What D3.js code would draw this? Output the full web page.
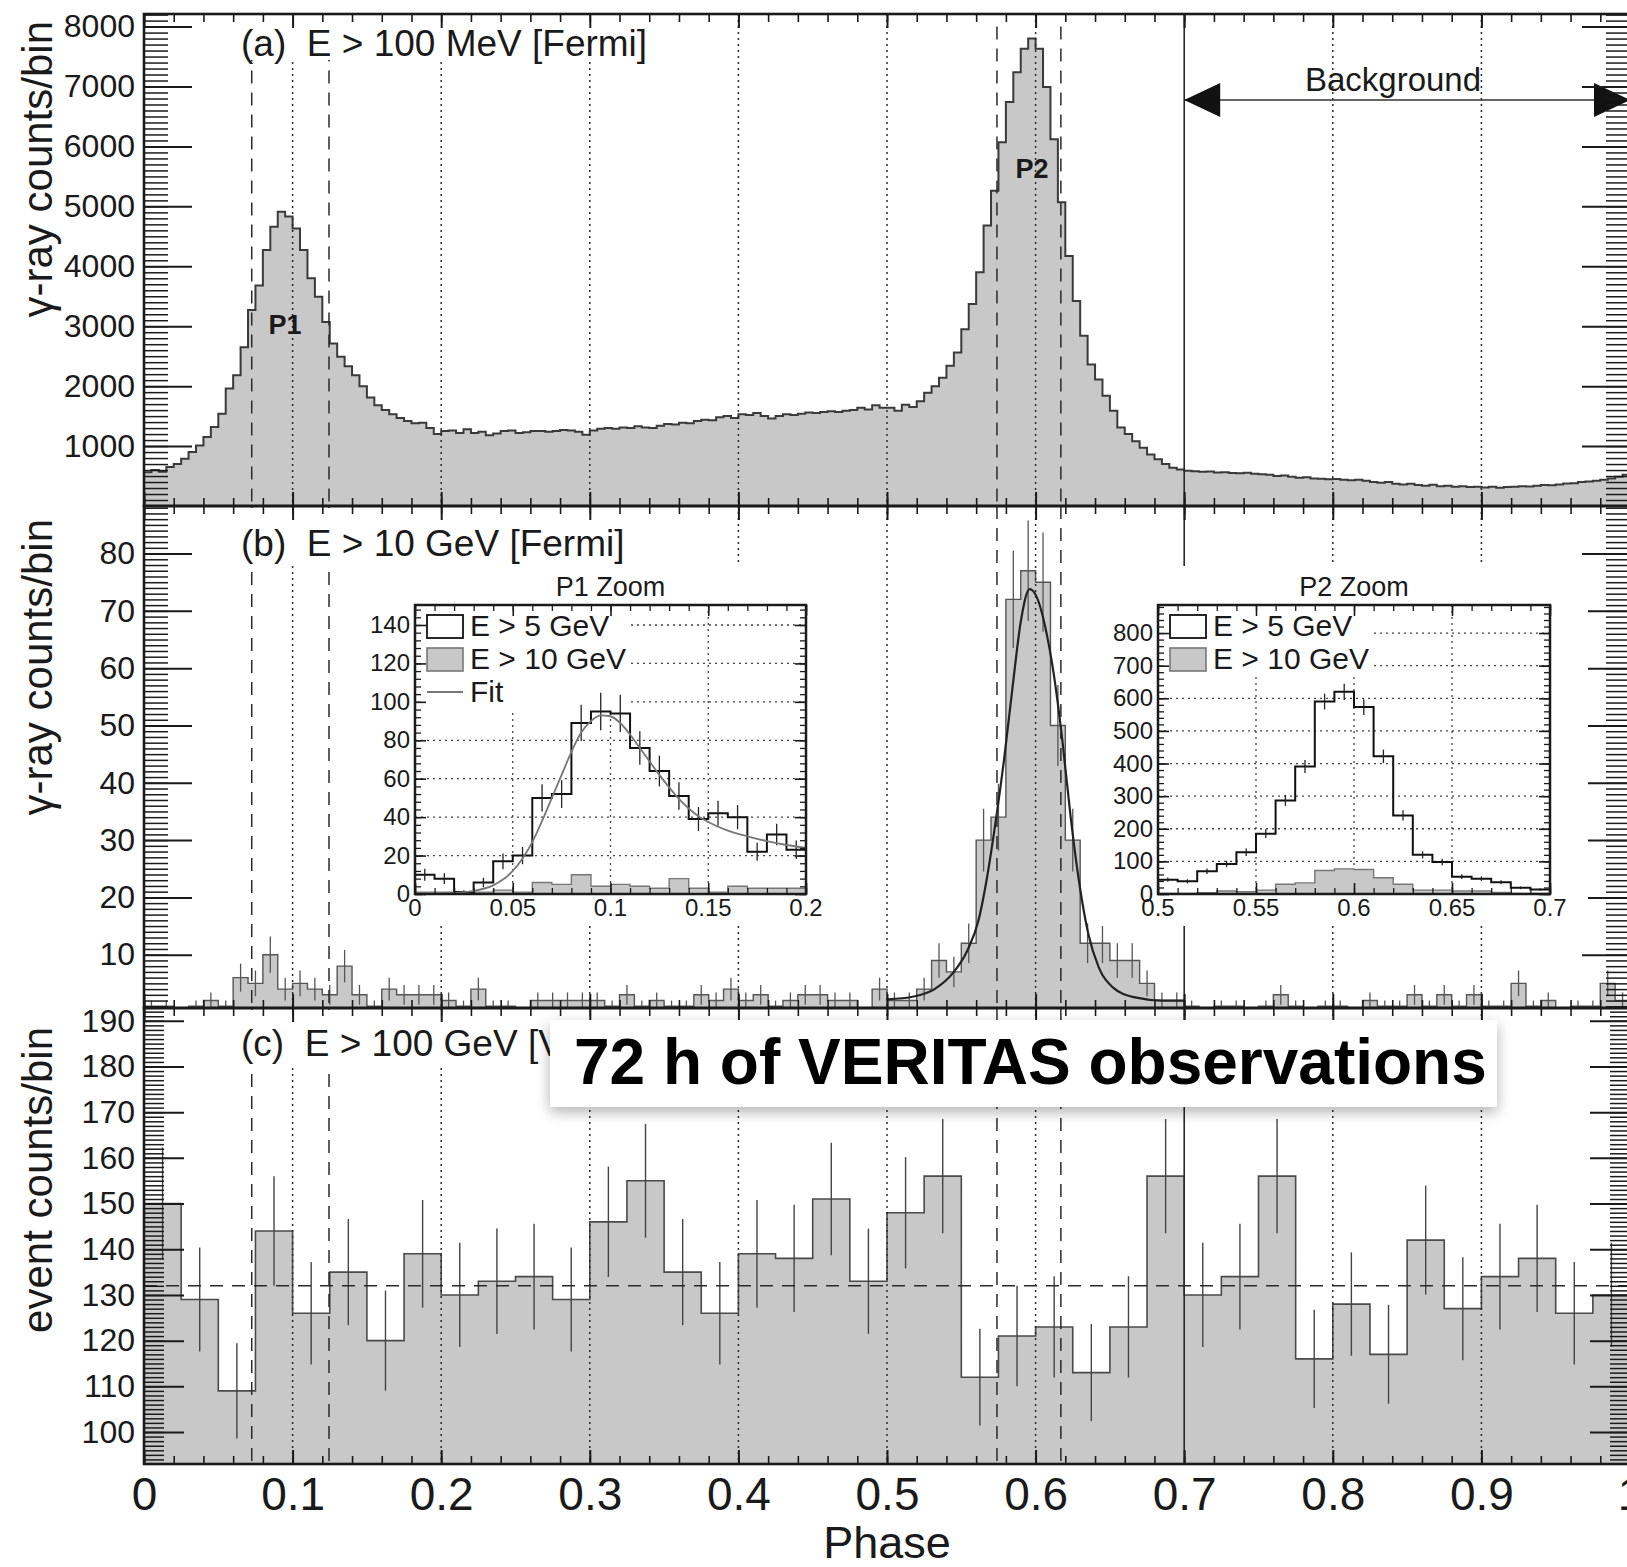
<!DOCTYPE html>
<html>
<head>
<meta charset="utf-8">
<title>Pulsar phaseogram</title>
<script src="https://cdn.jsdelivr.net/npm/d3@7/dist/d3.min.js"></script>
<style>
  body { margin: 0; background: #fff; }
  svg { display: block; }
  text { font-family: "Liberation Sans", Arial, Helvetica, sans-serif; fill: #1a1a1a; }
</style>
</head>
<body>
<svg id="chart" width="1627" height="1567"></svg>
<script>
// ---------- values ----------
// (a) Fermi E > 100 MeV, 200 bins of 0.005 in phase
const fermiMeVCounts = [
  565, 600, 570, 650, 700, 790, 900, 1010, 1150, 1320,
  1540, 1960, 2180, 2650, 3270, 3680, 4270, 4660, 4910, 4830,
  4630, 4270, 3800, 3490, 3070, 2710, 2490, 2330, 2180, 2000,
  1810, 1680, 1600, 1530, 1470, 1420, 1380, 1390, 1300, 1200,
  1250, 1260, 1220, 1280, 1220, 1240, 1180, 1210, 1250, 1260,
  1220, 1230, 1250, 1250, 1240, 1250, 1270, 1260, 1240, 1190,
  1260, 1290, 1300, 1290, 1310, 1300, 1330, 1310, 1300, 1340,
  1370, 1360, 1390, 1380, 1420, 1440, 1430, 1480, 1500, 1470,
  1530, 1520, 1550, 1500, 1460, 1500, 1530, 1520, 1540, 1560,
  1550, 1570, 1580, 1570, 1590, 1600, 1640, 1610, 1680, 1640,
  1640, 1590, 1690, 1650, 1750, 1890, 2000, 2140, 2340, 2560,
  2950, 3370, 3900, 4680, 5260, 6070, 6740, 7240, 7630, 7800,
  7630, 6990, 6120, 5070, 4170, 3420, 2840, 2360, 2110, 1840,
  1590, 1310, 1200, 1080, 970, 860, 780, 700, 640, 610,
  590, 580, 570, 575, 560, 565, 550, 545, 555, 540,
  530, 520, 500, 510, 490, 470, 480, 460, 455, 445,
  450, 440, 430, 440, 420, 400, 390, 400, 370, 360,
  370, 350, 340, 355, 330, 340, 320, 330, 315, 320,
  310, 320, 305, 315, 320, 330, 325, 340, 350, 345,
  360, 375, 380, 400, 410, 420, 440, 460, 490, 520
];

// (b) Fermi E > 10 GeV, 100 bins of 0.01
const fermiGeVCounts = [
  1, 1, 0, 1, 2, 1, 6, 5, 10, 4,
  5, 4, 3, 8, 3, 1, 4, 3, 3, 3,
  2, 1, 4, 1, 1, 0, 2, 2, 2, 2,
  2, 1, 3, 1, 2, 1, 1, 3, 2, 4,
  2, 3, 1, 2, 3, 3, 2, 2, 0, 4,
  2, 2, 4, 9, 7, 12, 30, 34, 72, 77,
  75, 50, 30, 12, 12, 9, 9, 5, 2, 2,
  1, 0, 1, 1, 0, 1, 3, 1, 0, 1,
  1, 0, 2, 1, 1, 3, 1, 3, 1, 3,
  1, 1, 5, 1, 2, 0, 1, 1, 5, 2
];
// fit to P2 in (b): [phase, counts]
const p2FitPoints = [
  [0.500, 2.2], [0.518, 2.7], [0.532, 4.0], [0.545, 7.0], [0.554, 10.7],
  [0.5616, 16.0], [0.567, 23.0], [0.5726, 32.3], [0.5787, 43.9], [0.5845, 56.7],
  [0.5902, 68.4], [0.596, 73.8], [0.6008, 72.4], [0.6065, 67.2], [0.6122, 59.0],
  [0.618, 47.4], [0.6236, 34.0], [0.6295, 22.3], [0.6355, 13.6], [0.6425, 7.8],
  [0.652, 4.3], [0.666, 2.6], [0.6857, 2.0], [0.700, 2.0]
];

// (c) VERITAS E > 100 GeV, 40 bins of 0.025
const veritasCounts = [
  150, 129, 109, 144, 126, 135, 120, 139, 130, 133,
  134, 129, 146, 155, 135, 126, 139, 138, 151, 133,
  148, 156, 112, 121, 123, 113, 123, 156, 130, 134,
  156, 116, 128, 117, 142, 127, 134, 138, 126, 130
];
const veritasMeanLevel = 132;

// insets, E > 5 GeV, bins of 0.01
const p1ZoomCounts = [10, 8, 1, 6, 17, 20, 50, 52, 89, 95, 94, 76, 64, 51, 39, 42, 40, 22, 31, 23];
const p2ZoomCounts = [44, 39, 70, 92, 128, 185, 287, 391, 590, 620, 573, 422, 241, 120, 98, 53, 47, 36, 19, 14];
const p1ZoomFit = [
  [0.010, 0.1], [0.02, 0.6], [0.03, 1.6], [0.04, 4.5], [0.045, 7.5], [0.05, 12],
  [0.055, 18.5], [0.06, 27], [0.065, 38], [0.07, 50], [0.075, 62], [0.08, 74],
  [0.085, 84], [0.09, 90], [0.095, 93], [0.1, 92.5], [0.105, 89], [0.11, 83],
  [0.115, 76], [0.12, 69], [0.125, 62], [0.13, 55.5], [0.135, 49.5], [0.14, 44.5],
  [0.145, 40.5], [0.15, 37.5], [0.16, 33], [0.17, 30], [0.18, 27.5], [0.19, 25.5], [0.2, 24]
];

// phase markers
const gridPhases = [0.1, 0.2, 0.3, 0.4, 0.5, 0.6, 0.8, 0.9];
const backgroundStart = 0.7;
const p1Edges = [0.0725, 0.1245];
const p2Edges = [0.574, 0.617];

// tick labels
const phaseTicks = [0, 0.1, 0.2, 0.3, 0.4, 0.5, 0.6, 0.7, 0.8, 0.9, 1];
const phaseTickText = ['0', '0.1', '0.2', '0.3', '0.4', '0.5', '0.6', '0.7', '0.8', '0.9', '1'];
const ticksA = [1000, 2000, 3000, 4000, 5000, 6000, 7000, 8000];
const ticksB = [10, 20, 30, 40, 50, 60, 70, 80];
const ticksC = [100, 110, 120, 130, 140, 150, 160, 170, 180, 190];
const p1ZoomXTicks = [0, 0.05, 0.1, 0.15, 0.2];
const p1ZoomXText = ['0', '0.05', '0.1', '0.15', '0.2'];
const p1ZoomYTicks = [0, 20, 40, 60, 80, 100, 120, 140];
const p2ZoomXTicks = [0.5, 0.55, 0.6, 0.65, 0.7];
const p2ZoomXText = ['0.5', '0.55', '0.6', '0.65', '0.7'];
const p2ZoomYTicks = [0, 100, 200, 300, 400, 500, 600, 700, 800];

// ---------- drawing ----------
const svg = d3.select('#chart');
const ink = '#1a1a1a';
const fillGray = '#c8c8c8';
const dotted = '2,4';
const dashed = '13,9';

const xl = 144, xr = 1630;
const x = d3.scaleLinear().domain([0, 1]).range([xl, xr]);

const ya = d3.scaleLinear().domain([0, 8210]).range([506, 14]).clamp(true);
const yb = d3.scaleLinear().domain([0.7, 88.3]).range([1008, 506]).clamp(true);
const yc = d3.scaleLinear().domain([93, 192.8]).range([1464, 1008]).clamp(true);

function addText(g, str, px, py, size, opt) {
  opt = opt || {};
  const t = g.append('text').attr('x', px).attr('y', py).attr('font-size', size)
    .style('white-space', 'pre').text(str);
  if (opt.anchor) t.attr('text-anchor', opt.anchor);
  if (opt.weight) t.attr('font-weight', opt.weight);
  if (opt.rotate) t.attr('transform', `rotate(-90,${px},${py})`);
  return t;
}

function cleanAxis(sel, sw) {
  sel.select('.domain').remove();
  sel.selectAll('.tick text').remove();
  sel.selectAll('.tick line').attr('stroke', ink).attr('stroke-width', sw);
}

function yTicks(g, ys, vals, len, sw, x0, x1) {
  g.append('g').attr('transform', `translate(${x0},0)`)
    .call(d3.axisRight(ys).tickValues(vals).tickSize(len)).call(s => cleanAxis(s, sw));
  g.append('g').attr('transform', `translate(${x1},0)`)
    .call(d3.axisLeft(ys).tickValues(vals).tickSize(len)).call(s => cleanAxis(s, sw));
}

function xTicks(g, xs, vals, len, sw, y0, y1) {
  g.append('g').attr('transform', `translate(0,${y0})`)
    .call(d3.axisBottom(xs).tickValues(vals).tickSize(len)).call(s => cleanAxis(s, sw));
  g.append('g').attr('transform', `translate(0,${y1})`)
    .call(d3.axisTop(xs).tickValues(vals).tickSize(len)).call(s => cleanAxis(s, sw));
}

function drawHist(g, xs, ys, lo, hi, values, opt) {
  const w = (hi - lo) / values.length;
  const pts = values.map((v, i) => [lo + i * w, v]);
  pts.push([hi, values[values.length - 1]]);
  const base = ys.range()[0];
  if (opt.fill) {
    g.append('path').datum(pts)
      .attr('d', d3.area().curve(d3.curveStepAfter).x(d => xs(d[0])).y0(base).y1(d => ys(d[1])))
      .attr('fill', opt.fill);
  }
  g.append('path').datum(pts)
    .attr('d', d3.line().curve(d3.curveStepAfter).x(d => xs(d[0])).y(d => ys(d[1])))
    .attr('fill', 'none').attr('stroke', opt.stroke).attr('stroke-width', opt.width);
  if (opt.errors) {
    g.selectAll(null)
      .data(values.map((v, i) => ({ v, c: lo + (i + 0.5) * w })).filter(d => d.v > 0))
      .join('line')
      .attr('x1', d => xs(d.c)).attr('x2', d => xs(d.c))
      .attr('y1', d => ys(d.v - Math.sqrt(d.v))).attr('y2', d => ys(d.v + Math.sqrt(d.v)))
      .attr('stroke', opt.errColor || opt.stroke).attr('stroke-width', opt.errWidth || 1.3);
  }
}

function vline(g, phase, y1, y2, dash, sw) {
  g.append('line').attr('x1', x(phase)).attr('x2', x(phase)).attr('y1', y1).attr('y2', y2)
    .attr('stroke', '#2a2a2a').attr('stroke-width', sw || 1.5)
    .attr('stroke-dasharray', dash);
}

function phaseLines(g, top, bottom, dashTop) {
  gridPhases.forEach(p => vline(g, p, top, bottom, dotted));
  vline(g, backgroundStart, top, bottom, null, 1.6);
  p1Edges.concat(p2Edges).forEach(p => vline(g, p, dashTop, bottom, dashed));
}

function frame(g, ys, top, bottom, major, minor, majLen, minLen, labels) {
  yTicks(g, ys, minor, minLen, 1.5, xl, xr);
  yTicks(g, ys, major, majLen, 2, xl, xr);
  xTicks(g, x, d3.range(0, 1.0001, 0.02), 8, 1.6, top, bottom);
  xTicks(g, x, phaseTicks, 14, 2, top, bottom);
  g.append('rect').attr('x', xl).attr('y', top).attr('width', xr - xl).attr('height', bottom - top)
    .attr('fill', 'none').attr('stroke', ink).attr('stroke-width', 2.6);
  g.append('g').attr('transform', `translate(${xl},0)`)
    .call(d3.axisLeft(ys).tickValues(labels).tickSize(0).tickPadding(9).tickFormat(d3.format('d')))
    .call(s => {
      s.select('.domain').remove();
      s.selectAll('text').attr('font-size', 32).attr('font-family', null).attr('fill', ink);
    });
}

function labelBox(g, str, x0, y0, x1, y1, baseline) {
  g.append('rect').attr('x', x0).attr('y', y0).attr('width', x1 - x0).attr('height', y1 - y0).attr('fill', '#fff');
  addText(g, str, 241, baseline, 37);
}

// ----- panel (a) -----
const ga = svg.append('g');
drawHist(ga, x, ya, 0, 1, fermiMeVCounts, { fill: fillGray, stroke: '#3a3a3a', width: 2 });
phaseLines(ga, 14, 506, ya(8000));
labelBox(ga, '(a)  E > 100 MeV [Fermi]', 236, 15, 660, 60, 56);
addText(ga, 'P1', 285, 334, 27, { anchor: 'middle', weight: 'bold' });
addText(ga, 'P2', 1032, 178, 27, { anchor: 'middle', weight: 'bold' });
// background window arrow
const arrowY = 100;
ga.append('line').attr('x1', x(backgroundStart)).attr('x2', x(1)).attr('y1', arrowY).attr('y2', arrowY)
  .attr('stroke', '#333').attr('stroke-width', 1.6);
ga.append('path').attr('d', `M${x(backgroundStart)},${arrowY} l36,-17 v34 Z`).attr('fill', '#111');
ga.append('path').attr('d', `M${x(1)},${arrowY} l-36,-17 v34 Z`).attr('fill', '#111');
addText(ga, 'Background', 1393, 91, 33, { anchor: 'middle' });
frame(ga, ya, 14, 506, ticksA, d3.range(100, 8201, 100), 48, 24, ticksA);
addText(ga, 'γ-ray counts/bin', 52, 21, 42, { anchor: 'end', rotate: true });

// ----- panel (b) -----
const gb = svg.append('g');
drawHist(gb, x, yb, 0, 1, fermiGeVCounts, { fill: fillGray, stroke: '#555', width: 1.4, errors: true, errColor: '#555', errWidth: 1.3 });
gb.append('path').datum(p2FitPoints)
  .attr('d', d3.line().curve(d3.curveMonotoneX).x(d => x(d[0])).y(d => yb(d[1])))
  .attr('fill', 'none').attr('stroke', '#222').attr('stroke-width', 2.2);
phaseLines(gb, 506, 1008, 506);
labelBox(gb, '(b)  E > 10 GeV [Fermi]', 236, 508, 640, 565, 556);

function drawInset(cfg) {
  const g = svg.append('g');
  const { xs, ys } = cfg;
  const [fx0, fx1] = xs.range();
  const [fy1, fy0] = ys.range();
  g.append('rect').attr('x', cfg.pad[0]).attr('y', 566).attr('width', cfg.pad[1] - cfg.pad[0]).attr('height', 360).attr('fill', '#fff');
  addText(g, cfg.title, (fx0 + fx1) / 2, 596, 27, { anchor: 'middle' });
  // grid
  cfg.xTicks.slice(1, -1).forEach(v => {
    g.append('line').attr('x1', xs(v)).attr('x2', xs(v)).attr('y1', fy0).attr('y2', fy1)
      .attr('stroke', '#444').attr('stroke-width', 1.3).attr('stroke-dasharray', dotted);
  });
  cfg.yTicks.slice(1).forEach(v => {
    g.append('line').attr('x1', fx0).attr('x2', fx1).attr('y1', ys(v)).attr('y2', ys(v))
      .attr('stroke', '#444').attr('stroke-width', 1.3).attr('stroke-dasharray', dotted);
  });
  g.append('rect').attr('x', fx0).attr('y', fy0).attr('width', cfg.legendW).attr('height', cfg.legendH).attr('fill', '#fff');
  drawHist(g, xs, ys, xs.domain()[0], xs.domain()[1], cfg.gray, { fill: fillGray, stroke: '#777', width: 1.4 });
  drawHist(g, xs, ys, xs.domain()[0], xs.domain()[1], cfg.black, { stroke: '#111', width: 2, errors: true, errColor: '#222', errWidth: 1.3 });
  if (cfg.fit) {
    g.append('path').datum(cfg.fit)
      .attr('d', d3.line().curve(d3.curveMonotoneX).x(d => xs(d[0])).y(d => ys(d[1])))
      .attr('fill', 'none').attr('stroke', '#777').attr('stroke-width', 1.8);
  }
  // ticks and frame
  const [lo, hi] = xs.domain();
  yTicks(g, ys, cfg.yMinor, 6, 1.3, fx0, fx1);
  yTicks(g, ys, cfg.yTicks, 11, 1.6, fx0, fx1);
  xTicks(g, xs, d3.range(lo, hi + 1e-6, 0.01), 6, 1.3, fy0, fy1);
  xTicks(g, xs, cfg.xTicks, 11, 1.6, fy0, fy1);
  g.append('rect').attr('x', fx0).attr('y', fy0).attr('width', fx1 - fx0).attr('height', fy1 - fy0)
    .attr('fill', 'none').attr('stroke', ink).attr('stroke-width', 2.5);
  cfg.yTicks.forEach(v => addText(g, String(v), fx0 - 5, ys(v) + 8, 24, { anchor: 'end' }));
  cfg.xTicks.forEach((v, i) => addText(g, cfg.xText[i], xs(v), 916, 24, { anchor: 'middle' }));
  // legend
  const lx = fx0 + 12;
  g.append('rect').attr('x', lx).attr('y', 615).attr('width', 36).attr('height', 23)
    .attr('fill', '#fff').attr('stroke', '#111').attr('stroke-width', 1.8);
  addText(g, 'E > 5 GeV', lx + 43, 636, 30);
  g.append('rect').attr('x', lx).attr('y', 648).attr('width', 36).attr('height', 23)
    .attr('fill', fillGray).attr('stroke', '#777').attr('stroke-width', 1.6);
  addText(g, 'E > 10 GeV', lx + 43, 669, 30);
  if (cfg.fit) {
    g.append('line').attr('x1', lx).attr('x2', lx + 36).attr('y1', 692).attr('y2', 692)
      .attr('stroke', '#777').attr('stroke-width', 1.8);
    addText(g, 'Fit', lx + 43, 702, 30);
  }
}

drawInset({
  title: 'P1 Zoom',
  xs: d3.scaleLinear().domain([0, 0.2]).range([415, 806]),
  ys: d3.scaleLinear().domain([0, 150.4]).range([894, 605]).clamp(true),
  pad: [355, 842],
  xTicks: p1ZoomXTicks, xText: p1ZoomXText,
  yTicks: p1ZoomYTicks, yMinor: d3.range(0, 150, 4),
  gray: fermiGeVCounts.slice(0, 20),
  black: p1ZoomCounts,
  fit: p1ZoomFit,
  legendW: 213, legendH: 107
});
drawInset({
  title: 'P2 Zoom',
  xs: d3.scaleLinear().domain([0.5, 0.7]).range([1158, 1550]),
  ys: d3.scaleLinear().domain([0, 886]).range([894, 605]).clamp(true),
  pad: [1098, 1588],
  xTicks: p2ZoomXTicks, xText: p2ZoomXText,
  yTicks: p2ZoomYTicks, yMinor: d3.range(0, 886, 20),
  gray: fermiGeVCounts.slice(50, 70),
  black: p2ZoomCounts,
  fit: null,
  legendW: 214, legendH: 72
});

frame(gb, yb, 506, 1008, ticksB, d3.range(1, 89, 1), 48, 24, ticksB);
addText(gb, 'γ-ray counts/bin', 52, 519, 42, { anchor: 'end', rotate: true });

// ----- panel (c) -----
const gc = svg.append('g');
drawHist(gc, x, yc, 0, 1, veritasCounts, { fill: fillGray, stroke: '#4a4a4a', width: 1.6, errors: true, errColor: '#444', errWidth: 1.4 });
phaseLines(gc, 1008, 1464, 1008);
gc.append('line').attr('x1', xl).attr('x2', xr).attr('y1', yc(veritasMeanLevel)).attr('y2', yc(veritasMeanLevel))
  .attr('stroke', '#2a2a2a').attr('stroke-width', 1.6).attr('stroke-dasharray', dashed);
labelBox(gc, '(c)  E > 100 GeV [VERITAS]', 236, 1010, 760, 1067, 1056);
frame(gc, yc, 1008, 1464, ticksC, d3.range(94, 193, 1), 40, 20, ticksC);
addText(gc, 'event counts/bin', 52, 1027, 42, { anchor: 'end', rotate: true });

// phase axis labels
gc.append('g').attr('transform', 'translate(0,1464)')
  .call(d3.axisBottom(x).tickValues(phaseTicks).tickSize(0).tickPadding(13).tickFormat((d, i) => phaseTickText[i]))
  .call(s => {
    s.select('.domain').remove();
    s.selectAll('text').attr('font-size', 46).attr('font-family', null).attr('fill', ink);
  });
addText(gc, 'Phase', x(0.5), 1558, 45, { anchor: 'middle' });

// ----- slide overlay -----
const defs = svg.append('defs');
const shadow = defs.append('filter').attr('id', 'shadow').attr('x', '-5%').attr('y', '-20%').attr('width', '110%').attr('height', '150%');
shadow.append('feDropShadow').attr('dx', 0).attr('dy', 5).attr('stdDeviation', 7)
  .attr('flood-color', '#000').attr('flood-opacity', 0.3);
svg.append('rect').attr('x', 550).attr('y', 1020).attr('width', 947).attr('height', 87)
  .attr('fill', '#fff').attr('filter', 'url(#shadow)');
addText(svg, '72 h of VERITAS observations', 574, 1084, 64, { weight: 'bold' }).style('fill', '#000');
</script>
</body>
</html>
